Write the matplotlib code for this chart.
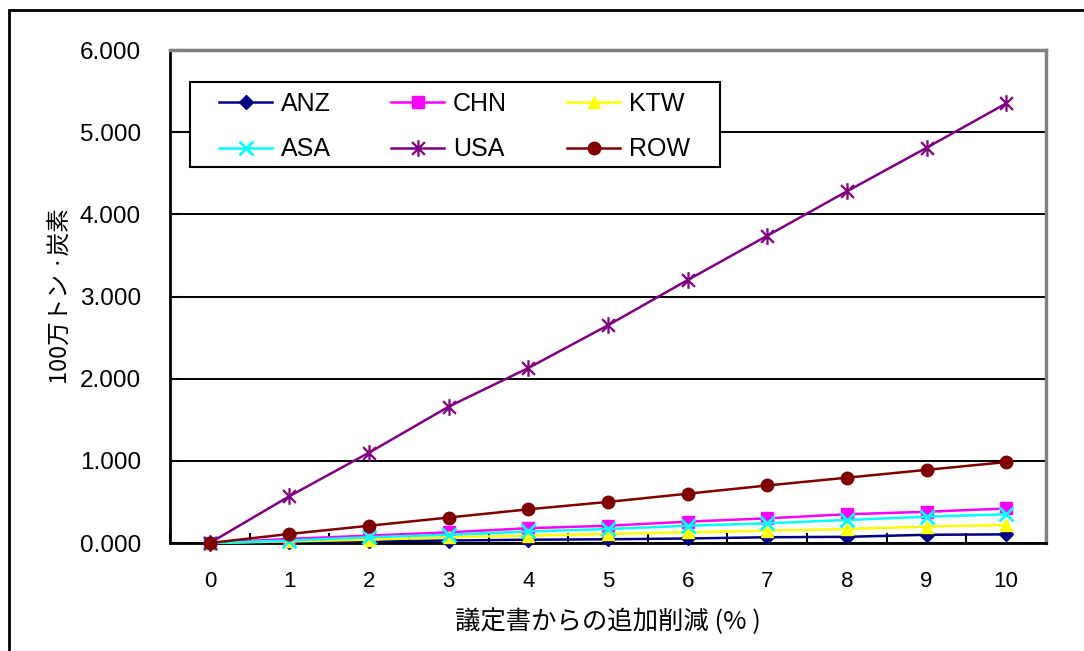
import matplotlib
matplotlib.use("Agg")
import matplotlib.pyplot as plt
from matplotlib.path import Path
from matplotlib.patches import Rectangle
import numpy as np

plt.rcParams['font.family'] = ['Liberation Sans', 'Noto Sans CJK JP', 'DejaVu Sans']

# Additional reduction beyond the protocol (%)
reduction = [0, 1, 2, 3, 4, 5, 6, 7, 8, 9, 10]

anz = [0.0, 0.01, 0.02, 0.03, 0.04, 0.045, 0.055, 0.07, 0.075, 0.10, 0.105]
chn = [0.0, 0.05, 0.09, 0.13, 0.18, 0.21, 0.26, 0.30, 0.35, 0.38, 0.42]
ktw = [0.0, 0.02, 0.04, 0.07, 0.09, 0.11, 0.13, 0.15, 0.17, 0.20, 0.22]
asa = [0.0, 0.03, 0.07, 0.10, 0.14, 0.17, 0.21, 0.24, 0.28, 0.32, 0.35]
usa = [0.0, 0.57, 1.10, 1.66, 2.13, 2.65, 3.20, 3.74, 4.28, 4.81, 5.35]
row = [0.0, 0.11, 0.21, 0.31, 0.41, 0.50, 0.60, 0.70, 0.795, 0.89, 0.985]

y_ticks = [0, 1, 2, 3, 4, 5, 6]

# Star marker: an "x" with a vertical stroke through it
star = Path([(-1, -1), (1, 1), (-1, 1), (1, -1), (0, -1.3), (0, 1.3)],
            [Path.MOVETO, Path.LINETO, Path.MOVETO, Path.LINETO, Path.MOVETO, Path.LINETO])

W, H = 1084, 651
fig = plt.figure(figsize=(W / 100, H / 100), dpi=100)
fig.patch.set_facecolor('white')

# Outer chart frame
fig.add_artist(Rectangle((8.5 / W, -0.05), 1.2, 1 - 10.5 / H + 0.05,
                         transform=fig.transFigure, fill=False,
                         edgecolor='black', linewidth=2.0))

AX_L, AX_R, AX_T, AX_B = 170, 1046, 50, 543
aw, ah = AX_R - AX_L, AX_B - AX_T
ax = fig.add_axes([AX_L / W, 1 - AX_B / H, aw / W, ah / H])

series = [
    ('ANZ', anz, '#000080', dict(marker='D', markersize=7)),
    ('CHN', chn, '#FF00FF', dict(marker='s', markersize=8)),
    ('KTW', ktw, '#FFFF00', dict(marker='^', markersize=9)),
    ('ASA', asa, '#00FFFF', dict(marker='x', markersize=10, markeredgewidth=2)),
    ('USA', usa, '#800080', dict(marker=star, markersize=12, markeredgewidth=1.6)),
    ('ROW', row, '#800000', dict(marker='o', markersize=9)),
]

handles = {}
for name, vals, color, mk in series:
    h, = ax.plot(reduction, vals, color=color, linewidth=1.8,
                 markerfacecolor=color, markeredgecolor=color,
                 label=name, clip_on=False, zorder=3, **mk)
    handles[name] = h

ax.set_xlim(-0.5, 10.5)
ax.set_ylim(0, 6)
ax.set_yticks(y_ticks)
ax.set_yticklabels([f"{v:.3f}" for v in y_ticks], fontsize=17.5)
ax.set_xticks(reduction)
ax.set_xticklabels([str(v) for v in reduction], fontsize=16)
ax.xaxis.set_minor_locator(matplotlib.ticker.FixedLocator(np.arange(-0.5, 11, 1)))
ax.tick_params(axis='x', which='major', length=0, pad=20)
ax.tick_params(axis='x', which='minor', direction='in', length=7, width=1.5, color='black')
ax.tick_params(axis='y', which='major', direction='in', length=8, width=1.5, pad=21)

ax.grid(axis='y', color='black', linewidth=1.4, zorder=1)
ax.set_axisbelow(True)

for side in ('left', 'bottom'):
    ax.spines[side].set_color('black')
    ax.spines[side].set_linewidth(2.0)
for side in ('top', 'right'):
    ax.spines[side].set_color('#808080')
    ax.spines[side].set_linewidth(2.5)

ax.set_xlabel('議定書からの追加削減 (% )', fontsize=18.3,
              family=['Noto Sans CJK JP', 'Liberation Sans'], labelpad=12)
ax.set_ylabel('100万トン ·炭素', fontsize=17,
              family=['Noto Sans CJK JP', 'Liberation Sans'], labelpad=5)

# Legend entries (row-wise order across three columns) and its frame
order = ['ANZ', 'ASA', 'CHN', 'USA', 'KTW', 'ROW']
leg = ax.legend([handles[n] for n in order], order, ncol=3,
                loc='upper left',
                bbox_to_anchor=((219 - AX_L) / aw, 1 - (92 - AX_T) / ah),
                fontsize=18, frameon=False, handlelength=2.12,
                columnspacing=2.4, labelspacing=0.86, handletextpad=0.36,
                borderpad=0, borderaxespad=0)
leg.set_zorder(5)
ax.add_patch(Rectangle(((190 - AX_L) / aw, (AX_B - 167) / ah),
                       (720 - 190) / aw, (167 - 82) / ah,
                       transform=ax.transAxes, facecolor='white',
                       edgecolor='black', linewidth=1.5, zorder=4,
                       clip_on=False))

fig.savefig('out.png', dpi=100)
